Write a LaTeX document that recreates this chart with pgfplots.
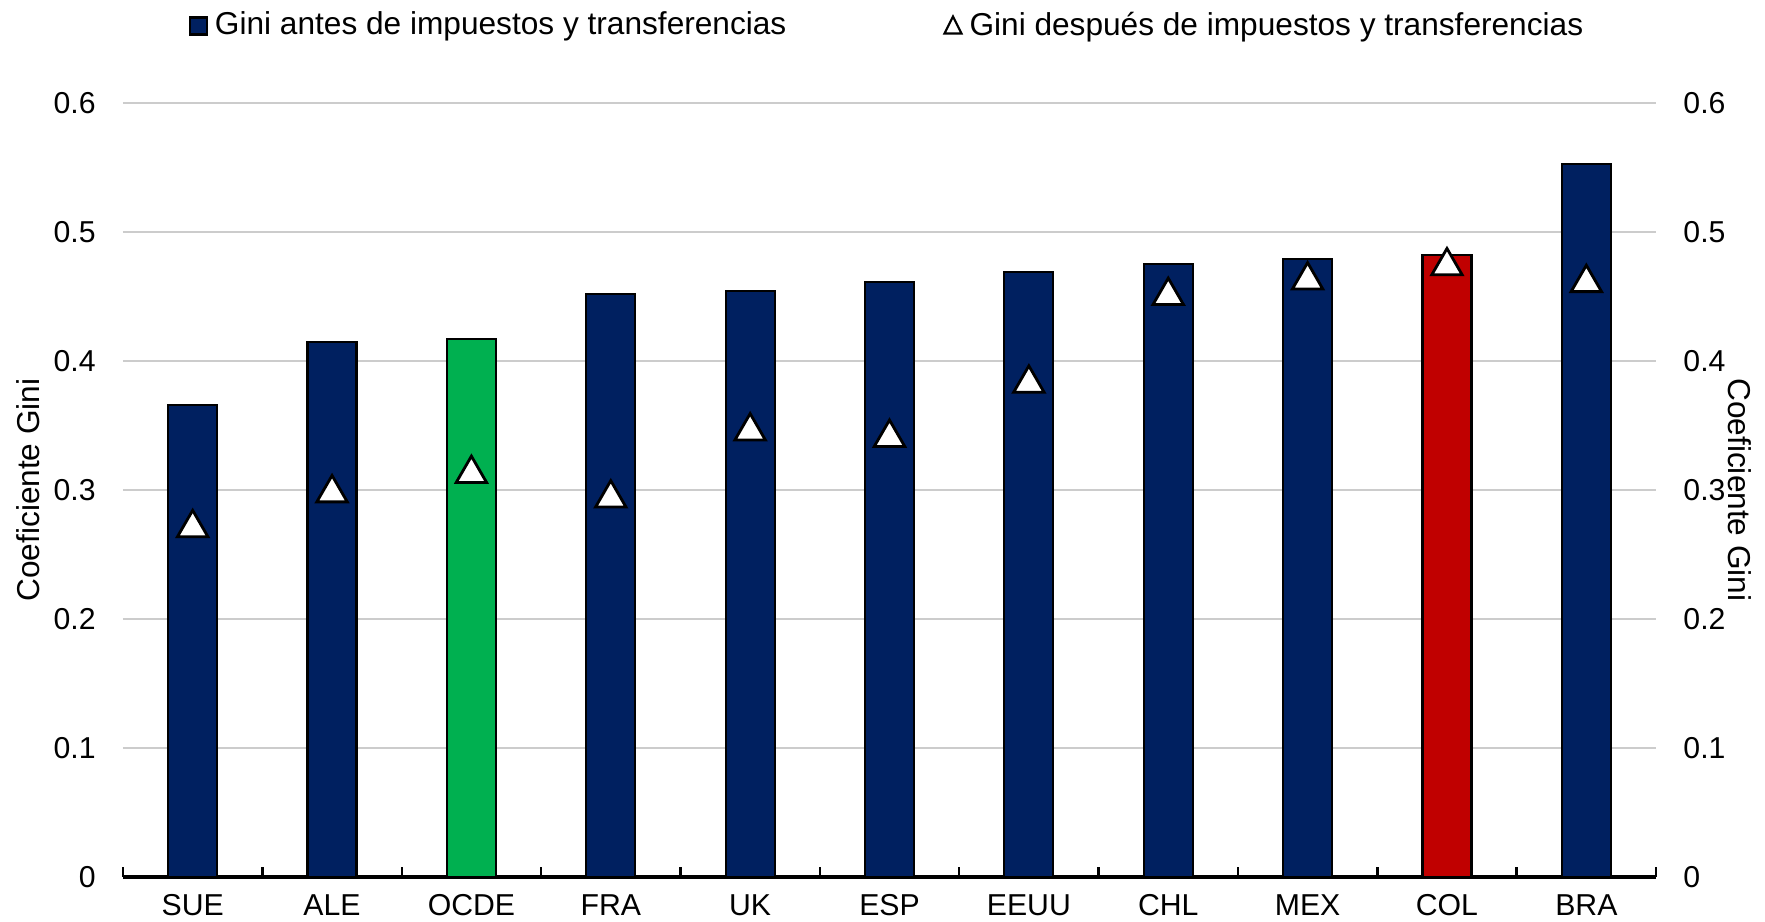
\documentclass[border=0pt]{standalone}
\usepackage{fontspec}
\setmainfont{Liberation Sans}
\usepackage{pgfplots}
\pgfplotsset{compat=1.18}
\definecolor{navy}{RGB}{0,32,96}
\definecolor{ocdegreen}{RGB}{0,176,80}
\definecolor{colred}{RGB}{192,0,0}
\definecolor{gridgray}{RGB}{204,204,204}

\pgfplotsset{
  gini/.style={
    width=15.33cm, height=7.74cm, scale only axis,
    xmin=-0.5, xmax=10.5, ymin=0, ymax=0.6,
    ytick={0,0.1,0.2,0.3,0.4,0.5,0.6},
    ytick style={draw=none},
    y axis line style={draw=none},
    /pgf/number format/assume math mode=true,
    tick label style={font=\fontsize{8.6}{10}\selectfont},
    label style={font=\fontsize{9}{11}\selectfont},
  }
}

\begin{document}
\begin{tikzpicture}
\path[use as bounding box] (-1.23,-0.45) rectangle (16.42,8.77);
\begin{axis}[gini,
  axis x line*=bottom, axis y line*=left,
  x axis line style={line width=0.9pt},
  ymajorgrids, grid style={gridgray, line width=0.6pt},
  xtick={0,...,10},
  xticklabels={SUE,ALE,OCDE,FRA,UK,ESP,EEUU,CHL,MEX,COL,BRA},
  major x tick style={draw=none},
  minor xtick={-0.5,0.5,1.5,2.5,3.5,4.5,5.5,6.5,7.5,8.5,9.5,10.5},
  minor x tick style={black, line width=0.7pt},
  xtick align=inside,
  minor tick length=0.1cm,
  yticklabel style={xshift=-0.15cm},
  xticklabel style={yshift=-0.05cm},
  ylabel={Coeficiente Gini},
  ylabel style={at={(rel axis cs:-0.062,0.5)}, anchor=center},
  legend columns=2,
  legend style={at={(0.5,1.137)}, anchor=north, draw=none,
    font=\fontsize{9}{11}\selectfont,
    /tikz/every even column/.append style={column sep=1.5cm}},
]
% Gini antes de impuestos y transferencias
\addplot[ybar, bar shift=0pt, bar width=0.49cm, fill=navy, draw=black, line width=0.6pt,
  legend image code/.code={\draw[fill=navy, draw=black, line width=0.6pt] (0cm,-0.085cm) rectangle (0.17cm,0.085cm);}]
  coordinates {(0,0.366) (1,0.415) (3,0.452) (4,0.454) (5,0.461) (6,0.469) (7,0.475) (8,0.479) (10,0.553)};
\addlegendentry{Gini antes de impuestos y transferencias}
\addplot[ybar, bar shift=0pt, bar width=0.49cm, fill=ocdegreen, draw=black, line width=0.6pt, forget plot]
  coordinates {(2,0.417)};
\addplot[ybar, bar shift=0pt, bar width=0.49cm, fill=colred, draw=black, line width=0.6pt, forget plot]
  coordinates {(9,0.482)};
% Gini despues de impuestos y transferencias
\addplot[only marks, mark=triangle*, mark size=5pt,
  mark options={fill=white, draw=black, line width=0.8pt, yshift=-1.25pt},
  legend image code/.code={\draw[fill=white, draw=black, line width=0.6pt] (0cm,-0.075cm) -- (0.17cm,-0.075cm) -- (0.085cm,0.095cm) -- cycle;}]
  coordinates {(0,0.274) (1,0.301) (2,0.316) (3,0.297) (4,0.349) (5,0.344) (6,0.386) (7,0.454) (8,0.466) (9,0.477) (10,0.464)};
\addlegendentry{Gini después de impuestos y transferencias}
\end{axis}
\begin{axis}[gini,
  axis y line*=right, axis x line=none,
  xtick=\empty,
  yticklabel style={xshift=0.15cm},
  ylabel={Coeficiente Gini},
  ylabel style={at={(rel axis cs:1.0548,0.5)}, anchor=center, rotate=180},
]
\end{axis}
\end{tikzpicture}
\end{document}
